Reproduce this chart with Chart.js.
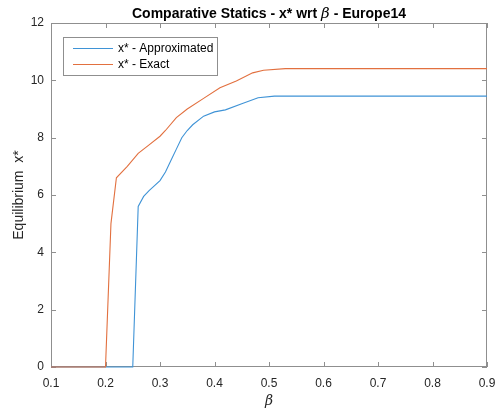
<!DOCTYPE html>
<html>
<head>
<meta charset="utf-8">
<script src="https://cdn.jsdelivr.net/npm/chart.js@4.4.0/dist/chart.umd.min.js"></script>
<style>
  html, body { margin: 0; padding: 0; background: #fff; }
  #wrap { width: 500px; height: 413px; }
</style>
</head>
<body>
<div id="wrap"><canvas id="chart"></canvas></div>
<script>
'use strict';

// beta values and equilibrium x* for each curve
var betaExact = [0.10, 0.20, 0.21, 0.22, 0.24, 0.26, 0.28, 0.30, 0.31, 0.33, 0.35, 0.38, 0.41, 0.44, 0.47, 0.49, 0.53, 0.90];
var xExact    = [0, 0, 5.0, 6.6, 7.0, 7.45, 7.75, 8.05, 8.25, 8.7, 9.0, 9.37, 9.74, 9.98, 10.26, 10.35, 10.41, 10.41];

var betaApprox = [0.10, 0.25, 0.26, 0.27, 0.28, 0.30, 0.31, 0.32, 0.33, 0.34, 0.35, 0.36, 0.38, 0.40, 0.42, 0.45, 0.48, 0.51, 0.90];
var xApprox    = [0, 0, 5.6, 5.95, 6.15, 6.5, 6.8, 7.2, 7.6, 8.0, 8.25, 8.45, 8.75, 8.9, 8.97, 9.18, 9.39, 9.45, 9.45];

var xTicks = [0.1, 0.2, 0.3, 0.4, 0.5, 0.6, 0.7, 0.8, 0.9];
var yTicks = [0, 2, 4, 6, 8, 10, 12];

var seriesNames = ['x* - Approximated', 'x* - Exact'];
var seriesColors = ['#3f93d6', '#e2703f'];

var FONT = '"Liberation Sans", Arial, Helvetica, sans-serif';
var AXIS_GRAY = '#8f8f8f';
var TEXT = '#262626';

function toPoints(xs, ys) {
    return xs.map((x, i) => ({ x: x, y: ys[i] }));
}

// box + inward ticks go under the curves
var matlabBox = {
    id: 'matlabBox',
    beforeDatasetsDraw: function (chart) {
        var ctx = chart.ctx;
        var a = chart.chartArea;
        var xs = chart.scales.x, ys = chart.scales.y;
        ctx.save();
        ctx.strokeStyle = AXIS_GRAY;
        ctx.lineWidth = 1;
        ctx.strokeRect(a.left + 0.5, a.top + 0.5, a.right - a.left - 1, a.bottom - a.top - 1);

        ctx.beginPath();
        xTicks.forEach(t => {
            var px = Math.round(xs.getPixelForValue(t)) + 0.5;
            ctx.moveTo(px, a.bottom); ctx.lineTo(px, a.bottom - 5);
            ctx.moveTo(px, a.top); ctx.lineTo(px, a.top + 5);
        });
        yTicks.forEach(t => {
            var py = Math.round(ys.getPixelForValue(t)) + 0.5;
            ctx.moveTo(a.left, py); ctx.lineTo(a.left + 5, py);
            ctx.moveTo(a.right, py); ctx.lineTo(a.right - 5, py);
        });
        ctx.stroke();
        ctx.restore();
    }
};

// title with italic beta, axis labels and legend
var matlabText = {
    id: 'matlabText',
    afterDraw: function (chart) {
        var ctx = chart.ctx;
        var a = chart.chartArea;
        ctx.save();

        ctx.fillStyle = '#000';
        ctx.textBaseline = 'alphabetic';
        var parts = [
            { t: 'Comparative Statics - x* wrt ', f: 'bold 14px ' + FONT },
            { t: '\u03b2', f: 'italic 15px "DejaVu Serif", serif' },
            { t: ' - Europe14', f: 'bold 14px ' + FONT }
        ];
        var total = 0;
        parts.forEach(p => { ctx.font = p.f; p.w = ctx.measureText(p.t).width; total += p.w; });
        var cx = (a.left + a.right) / 2 - total / 2;
        parts.forEach(p => { ctx.font = p.f; ctx.textAlign = 'left'; ctx.fillText(p.t, cx, 18); cx += p.w; });

        ctx.fillStyle = TEXT;
        ctx.font = 'italic 14px "DejaVu Serif", serif';
        ctx.textAlign = 'center';
        ctx.fillText('\u03b2', (a.left + a.right) / 2, 405);

        ctx.save();
        ctx.translate(23, (a.top + a.bottom) / 2);
        ctx.rotate(-Math.PI / 2);
        ctx.font = '14px ' + FONT;
        ctx.textAlign = 'center';
        ctx.fillText('Equilibrium  x*', 0, 0);
        ctx.restore();

        var lx = 63, ly = 37, lw = 154, lh = 38;
        ctx.fillStyle = '#fff';
        ctx.fillRect(lx, ly, lw, lh);
        ctx.strokeStyle = AXIS_GRAY;
        ctx.lineWidth = 1;
        ctx.strokeRect(lx + 0.5, ly + 0.5, lw, lh);
        ctx.font = '12px ' + FONT;
        ctx.textAlign = 'left';
        ctx.textBaseline = 'middle';
        seriesNames.forEach((name, i) => {
            var y = ly + 11 + i * 16;
            ctx.strokeStyle = seriesColors[i];
            ctx.beginPath();
            ctx.moveTo(lx + 10, y + 0.5); ctx.lineTo(lx + 50, y + 0.5);
            ctx.stroke();
            ctx.fillStyle = '#000';
            ctx.fillText(name, lx + 55, y + 1);
        });

        ctx.restore();
    }
};

// exact curve listed first so it is painted over the approximation
new Chart(document.getElementById('chart'), {
    type: 'line',
    data: {
        datasets: [
            { label: seriesNames[1], data: toPoints(betaExact, xExact), borderColor: seriesColors[1], clip: 4 },
            { label: seriesNames[0], data: toPoints(betaApprox, xApprox), borderColor: seriesColors[0], clip: 4 }
        ]
    },
    options: {
        responsive: true,
        maintainAspectRatio: false,
        animation: false,
        layout: { padding: { top: 23, right: 13, left: 0, bottom: 0 } },
        elements: {
            line: { borderWidth: 1.1, tension: 0, fill: false },
            point: { radius: 0 }
        },
        plugins: { legend: { display: false }, title: { display: false }, tooltip: { enabled: false } },
        scales: {
            x: {
                type: 'linear', min: 0.1, max: 0.9,
                afterBuildTicks: s => { s.ticks = xTicks.map(v => ({ value: v })); },
                afterFit: s => { s.height = 46; s.paddingLeft = 0; s.paddingRight = 0; },
                grid: { display: false, drawTicks: false },
                border: { display: false },
                ticks: { color: TEXT, font: { family: FONT, size: 12 }, padding: 9, maxRotation: 0,
                         callback: v => String(Math.round(v * 10) / 10) }
            },
            y: {
                type: 'linear', min: 0, max: 12,
                afterBuildTicks: s => { s.ticks = yTicks.map(v => ({ value: v })); },
                afterFit: s => { s.width = 51; s.paddingTop = 0; s.paddingBottom = 0; },
                grid: { display: false, drawTicks: false },
                border: { display: false },
                ticks: { color: TEXT, font: { family: FONT, size: 12 }, padding: 7 }
            }
        }
    },
    plugins: [matlabBox, matlabText]
});
</script>
</body>
</html>
